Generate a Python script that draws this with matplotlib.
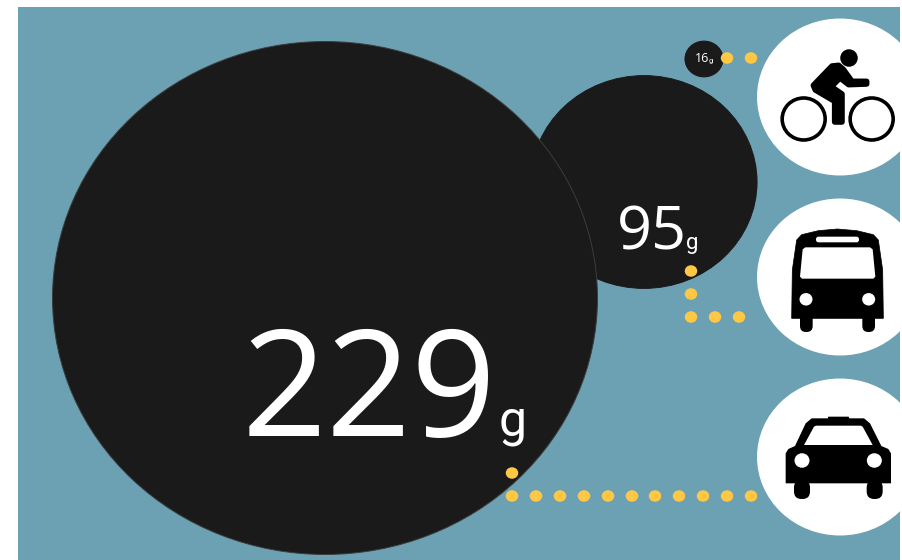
import matplotlib
matplotlib.use('Agg')
import matplotlib.pyplot as plt
from matplotlib.patches import Ellipse, Rectangle, Polygon, FancyBboxPatch

# grams of CO2 per km, car / bus / bike
values = [229, 95, 16]
unit = 'g'
icons = ['car', 'bus', 'bike']

BG = '#6ba1b2'
DARK = '#1a1a1a'
DOT = '#ffc844'
FONT = ['Open Sans', 'Noto Sans', 'DejaVu Sans']
UNIT_FONT = ['Roboto', 'DejaVu Sans']

# the picture is a bit wider than tall, so the circles come out as ellipses
SX = 1.19
SY = 1.12
centers = [(325, 298), (644, 182), (704, 59)]
paths = [
    [(512, 473), (512, 496), (536, 496), (560, 496), (584, 496), (608, 496), (632, 496),
     (655, 496), (679, 496), (703, 496), (727, 496), (751, 496)],
    [(691, 271), (691, 294), (691, 317), (715, 317), (739, 317)],
    [(727, 58), (751, 58)],
]
# number size, number x, baseline, unit size, unit x
label_style = [(107, 242, 436, 36, 499), (44, 617, 249, 16, 686.5), (9, 694.5, 62.5, 5.5, 708.5)]
icon_y = {'bike': 97, 'bus': 277, 'car': 457}

fig = plt.figure(figsize=(9.03, 5.6), dpi=100)
ax = fig.add_axes([0, 0, 1, 1])
ax.set_xlim(0, 903)
ax.set_ylim(560, 0)
ax.axis('off')

ax.add_patch(Rectangle((18, 7), 882, 553, fc=BG, ec='none', zorder=0))

order = [1, 0, 2]
edges = ['#3c3c3c', DARK, DARK]
for i in order:
    ax.add_patch(Ellipse(centers[i], 2 * values[i] * SX, 2 * values[i] * SY,
                         fc=DARK, ec=edges[i], lw=0.7, zorder=2 + order.index(i)))

bg_clip = Rectangle((18, 7), 882, 553, transform=ax.transData)
for name in icons:
    c = Ellipse((840, icon_y[name]), 166, 157, fc='white', ec='none', zorder=3)
    ax.add_patch(c)
    c.set_clip_path(bg_clip)

for path in paths:
    for p in path:
        ax.add_patch(Ellipse(p, 12.5, 11.5, fc=DOT, ec='none', zorder=6))

for v, st in zip(values, label_style):
    ax.text(st[1], st[2], str(v), color='white', fontsize=st[0], family=FONT,
            ha='left', va='baseline', zorder=7)
    ax.text(st[4], st[2], unit, color='white', fontsize=st[3], family=UNIT_FONT,
            ha='left', va='baseline', zorder=7)


# icon drawing: coordinates are taken from 3x crops, so convert them back
def zx(x, x0):
    return x / 3 + x0


def pts(lst, x0, y0):
    return [(x / 3 + x0, y / 3 + y0) for x, y in lst]


def rounded(x1, y1, x2, y2, r, color, z=5):
    ax.add_patch(FancyBboxPatch((x1 + r, y1 + r), x2 - x1 - 2 * r, y2 - y1 - 2 * r,
                                boxstyle='round,pad=%f,rounding_size=%f' % (r, r),
                                fc=color, ec='none', zorder=z))


# bike
x0, y0 = 670, 10
ax.add_patch(Ellipse((849, 58), 17.5, 17.5, fc='black', ec='none', zorder=5))
for wx in (401, 605):
    ax.add_patch(Ellipse((zx(wx, x0), 119), 43, 42, fc='none', ec='black', lw=2.6, zorder=5))
ax.add_patch(Polygon(pts([(430, 226), (486, 168), (506, 166), (520, 178), (546, 214), (590, 214),
                          (590, 222), (536, 224), (510, 204), (484, 230), (516, 252), (516, 336),
                          (494, 336), (494, 274), (436, 240)], x0, y0),
                     fc='black', ec='black', lw=4, joinstyle='round', zorder=5))

# bus
x0, y0 = 740, 190
ax.add_patch(Polygon(pts([(155, 385), (430, 385), (428, 240), (415, 150), (400, 134), (350, 122),
                          (292, 117), (235, 122), (185, 134), (170, 150), (157, 240)], x0, y0),
                     fc='black', ec='black', lw=0.5, joinstyle='round', zorder=5))
ax.add_patch(Polygon(pts([(196, 172), (390, 172), (398, 178), (406, 260), (400, 266),
                          (186, 266), (180, 260), (188, 178)], x0, y0),
                     fc='white', ec='none', zorder=6))
(a, b), (c, d) = pts([(228, 140), (357, 157)], x0, y0)
rounded(a, b, c, d, 2.5, 'white', 6)
for lx in (198, 386):
    ax.add_patch(Ellipse((zx(lx, x0), 299.3), 13, 12.5, fc='white', ec='none', zorder=6))
for wx in (180, 367):
    a, c = zx(wx, x0), zx(wx + 38, x0)
    rounded(a, 312, c, 332, 6, 'black')

# car
x0, y0 = 740, 370
ax.add_patch(Polygon(pts([(137, 340), (453, 340), (453, 250), (445, 237), (424, 228), (390, 160),
                          (372, 145), (328, 145), (326, 140), (265, 140), (263, 145), (215, 145),
                          (197, 160), (165, 228), (145, 237), (137, 250)], x0, y0),
                     fc='black', ec='none', zorder=5))
ax.add_patch(Polygon(pts([(192, 225), (398, 225), (368, 170), (362, 167), (228, 167), (222, 170)], x0, y0),
                     fc='white', ec='none', zorder=6))
for lx in (186, 403):
    ax.add_patch(Ellipse((zx(lx, x0), 460.5), 15, 14.5, fc='white', ec='none', zorder=6))
for wx in (162, 380):
    a, c = zx(wx, x0), zx(wx + 48, x0)
    rounded(a, 480, c, 499, 7.5, 'black')

fig.savefig('out.png', dpi=100)
